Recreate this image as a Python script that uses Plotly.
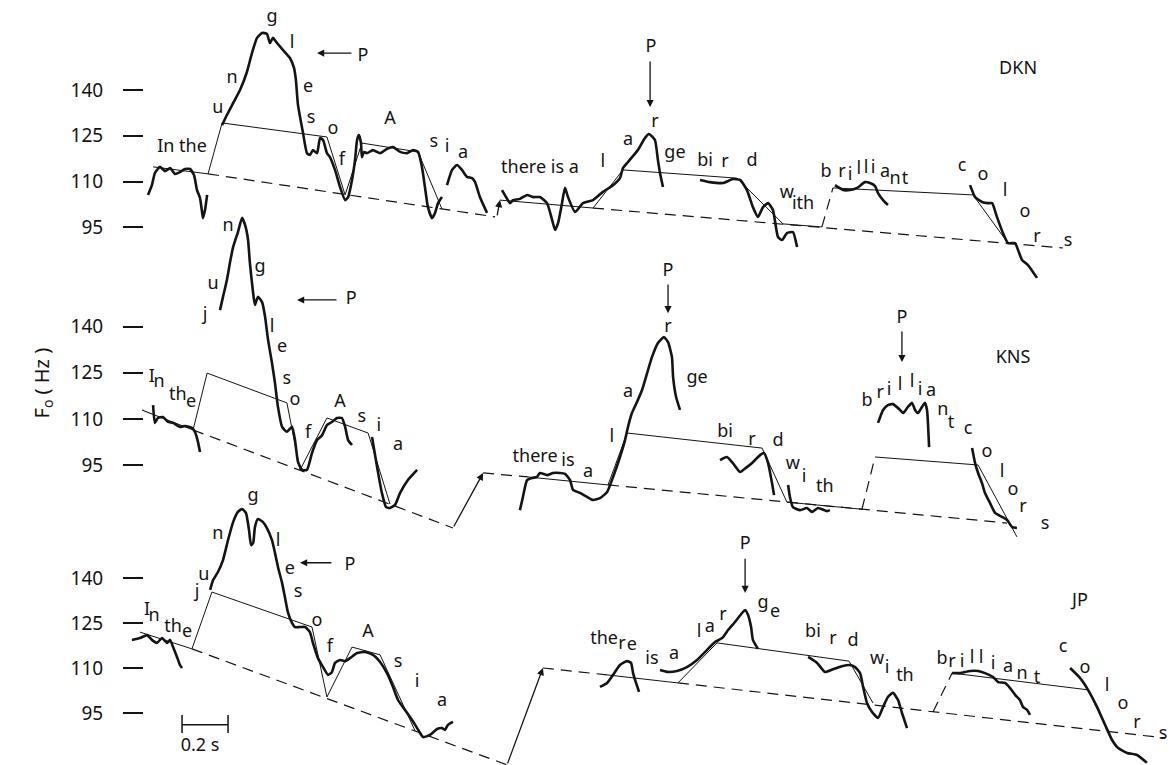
import plotly.graph_objects as go

FONT = "Noto Sans"
INK = "#141414"

# ------------------------------------------------------------------
# Measured F0 contours (time in s, F0 in Hz) and model lines
# ------------------------------------------------------------------
# ---- speaker DKN ----
dkn_t1 = [0.100, 0.117, 0.130, 0.152, 0.174, 0.196, 0.217, 0.239, 0.261, 0.283, 0.300, 0.313, 0.326, 0.335, 0.339, 0.348, 0.357]
dkn_f1 = [105.6, 108.8, 112.8, 114.8, 113.4, 114.4, 112.5, 113.1, 114.1, 114.1, 112.1, 107.2, 104.6, 100.0, 98.0, 100.7, 105.6]
dkn_t2 = [0.422, 0.443, 0.470, 0.500, 0.530, 0.552, 0.574, 0.596, 0.617, 0.630, 0.643, 0.661, 0.687, 0.717, 0.735, 0.743,
          0.752, 0.774, 0.791, 0.804, 0.817, 0.835, 0.848, 0.861, 0.878, 0.891, 0.913, 0.935, 0.957, 0.970, 0.987, 1.000,
          1.009, 1.017, 1.026, 1.030, 1.039, 1.052, 1.078, 1.109, 1.139, 1.165, 1.196, 1.226, 1.252, 1.274, 1.291, 1.304,
          1.317, 1.335, 1.348, 1.361, 1.378]
dkn_f2 = [128.5, 131.8, 135.7, 140.0, 145.9, 152.1, 157.1, 158.7, 158.4, 155.4, 157.1, 155.4, 153.1, 150.5, 147.2, 143.3,
          135.1, 125.9, 119.3, 118.7, 120.3, 119.3, 124.3, 123.6, 119.3, 118.0, 113.8, 108.2, 103.9, 104.9, 110.5, 117.0,
          123.6, 125.2, 122.6, 118.0, 119.7, 119.3, 120.3, 119.3, 120.7, 121.3, 119.7, 119.3, 120.3, 119.7, 114.8, 108.2,
          101.6, 98.0, 99.7, 102.9, 104.9]
dkn_t3 = [1.400, 1.422, 1.443, 1.465, 1.487, 1.509, 1.522, 1.543, 1.574]
dkn_f3 = [108.8, 113.8, 115.4, 113.8, 111.5, 111.1, 109.8, 104.9, 99.7]
dkn_t4 = [1.639, 1.657, 1.674, 1.687, 1.717, 1.748, 1.774, 1.804, 1.835, 1.857, 1.870, 1.883, 1.900, 1.913, 1.926,
          1.957, 1.991, 2.035, 2.078, 2.122, 2.152, 2.165, 2.187, 2.230, 2.261, 2.278, 2.304, 2.317, 2.326, 2.339]
dkn_f4 = [107.2, 104.9, 102.9, 103.9, 104.3, 105.6, 104.9, 104.9, 102.9, 97.4, 94.1, 96.4, 102.9, 107.9, 104.9,
          100.0, 102.9, 103.9, 106.6, 108.8, 111.1, 114.4, 116.4, 120.3, 124.3, 125.6, 123.6, 117.0, 112.8, 108.2]
dkn_t5 = [2.500, 2.543, 2.600, 2.643, 2.674, 2.704, 2.730, 2.752, 2.774, 2.796, 2.817, 2.839, 2.857, 2.878, 2.904, 2.922]
dkn_f5 = [110.5, 109.8, 109.5, 110.8, 110.5, 107.2, 101.6, 98.4, 101.6, 102.9, 100.7, 91.8, 90.8, 93.1, 93.4, 88.5]
dkn_t6 = [3.087, 3.122, 3.152, 3.183, 3.217, 3.239, 3.261, 3.274, 3.296, 3.317]
dkn_f6 = [108.8, 107.2, 107.2, 107.9, 109.8, 109.5, 108.5, 106.2, 103.9, 102.3]
dkn_t7 = [3.674, 3.696, 3.726, 3.752, 3.770, 3.791, 3.817, 3.839, 3.870, 3.883, 3.900, 3.926, 3.965]
dkn_f7 = [108.8, 104.9, 103.3, 102.9, 102.9, 98.4, 93.1, 89.8, 89.8, 87.5, 84.3, 82.6, 78.4]

dkn_solid = [([0.122, 0.361], [114.8, 112.5]),
             ([0.361, 0.422, 0.878, 0.957, 1.030, 1.274, 1.378], [112.5, 129.2, 124.6, 105.6, 122.6, 119.7, 101.0]),
             ([1.630, 2.035], [103.9, 101.3]),
             ([2.035, 2.165, 2.661, 2.861, 3.030], [101.3, 113.8, 111.1, 96.1, 95.1]),
             ([3.078, 3.687, 3.839], [107.9, 105.6, 89.8])]
dkn_dashed = [([0.361, 1.609], [112.5, 98.4]),
              ([2.035, 4.078], [101.3, 88.2]),
              ([3.030, 3.078], [95.1, 107.9])]

# ---- speaker KNS ----
kns_t1 = [0.122, 0.130, 0.143, 0.165, 0.187, 0.209, 0.239, 0.261, 0.291, 0.304, 0.317, 0.326]
kns_f1 = [114.5, 108.7, 110.3, 110.6, 109.0, 108.7, 107.4, 107.7, 107.1, 105.8, 102.6, 99.2]
kns_t2 = [0.413, 0.426, 0.443, 0.457, 0.470, 0.491, 0.509, 0.522, 0.535, 0.543, 0.557, 0.565, 0.578, 0.596, 0.609,
          0.622, 0.639, 0.652, 0.665, 0.683, 0.704, 0.726, 0.739, 0.752, 0.770, 0.791, 0.813, 0.835, 0.857, 0.878,
          0.900, 0.922, 0.943, 0.957, 0.970, 0.987]
kns_f2 = [145.4, 149.7, 155.2, 161.1, 165.9, 170.8, 175.4, 173.1, 168.2, 160.7, 151.0, 147.1, 149.7, 148.0, 143.2,
          135.7, 128.2, 121.7, 113.9, 107.4, 105.8, 107.4, 103.1, 96.0, 93.4, 93.4, 98.9, 103.1, 104.7, 108.0,
          109.0, 110.3, 110.3, 107.4, 103.1, 101.5]
kns_t3 = [1.074, 1.096, 1.117, 1.135, 1.152, 1.174, 1.196, 1.230, 1.270]
kns_f3 = [104.1, 94.3, 85.9, 81.3, 81.0, 82.0, 85.9, 90.1, 93.4]
kns_t4 = [1.717, 1.730, 1.748, 1.770, 1.791, 1.804, 1.835, 1.861, 1.891, 1.913, 1.935, 1.948, 1.978, 2.009, 2.035,
          2.065, 2.096, 2.122, 2.152, 2.174, 2.187, 2.204, 2.226, 2.248, 2.270, 2.291, 2.317, 2.343, 2.361, 2.378,
          2.383, 2.396, 2.413]
kns_f4 = [80.3, 84.6, 90.1, 90.8, 91.1, 92.4, 91.7, 92.4, 92.4, 92.1, 90.1, 86.9, 85.9, 84.6, 83.6,
          84.2, 86.2, 91.1, 97.6, 103.1, 107.4, 111.9, 115.5, 119.4, 124.9, 130.1, 134.7, 136.6, 135.0, 130.1,
          123.6, 117.1, 112.9]
kns_t5 = [2.587, 2.617, 2.643, 2.674, 2.704, 2.730, 2.761, 2.778, 2.796, 2.813, 2.822]
kns_f5 = [96.6, 97.6, 95.6, 92.7, 94.3, 95.9, 98.2, 98.9, 95.6, 89.1, 85.2]
kns_t6 = [2.883, 2.891, 2.904, 2.935, 2.965, 2.987, 3.013, 3.052, 3.065]
kns_f6 = [88.5, 84.6, 81.3, 80.3, 81.0, 79.7, 81.0, 80.0, 80.3]
kns_t7 = [3.274, 3.296, 3.317, 3.339, 3.370, 3.383, 3.404, 3.422, 3.435, 3.448, 3.465, 3.478, 3.487, 3.496]
kns_f7 = [108.7, 112.9, 114.5, 114.8, 112.9, 111.9, 113.9, 115.2, 112.9, 111.9, 113.9, 115.2, 112.9, 100.8]
kns_t8 = [3.683, 3.696, 3.709, 3.726, 3.739, 3.761, 3.783, 3.813, 3.835, 3.857, 3.878]
kns_f8 = [100.5, 95.6, 92.4, 89.1, 85.9, 82.6, 79.4, 78.1, 77.1, 74.8, 74.5]

kns_solid = [([0.117, 0.296], [111.6, 106.4]),
             ([0.296, 0.357, 0.704, 0.761, 0.878, 1.057, 1.152], [106.4, 124.9, 115.2, 93.4, 110.3, 105.4, 82.3]),
             ([1.752, 2.100], [91.1, 88.5]),
             ([2.100, 2.183, 2.770, 2.878, 3.204], [88.5, 105.4, 100.5, 82.9, 80.6]),
             ([3.261, 3.709, 3.878], [97.6, 95.0, 71.6])]
kns_dashed = [([0.074, 0.117], [112.9, 111.6]),
              ([0.296, 1.426], [106.4, 74.5]),
              ([1.557, 1.752], [92.4, 91.1]),
              ([2.100, 3.835], [88.5, 76.1]),
              ([3.204, 3.261], [80.6, 97.6])]

# ---- speaker JP ----
jp_t1 = [0.030, 0.065, 0.096, 0.117, 0.139, 0.161, 0.183, 0.196, 0.209, 0.226, 0.239, 0.248]
jp_f1 = [119.4, 120.0, 121.0, 119.4, 118.4, 120.0, 118.4, 119.4, 117.0, 113.7, 111.0, 110.0]
jp_t2 = [0.370, 0.383, 0.404, 0.426, 0.448, 0.470, 0.491, 0.509, 0.526, 0.539, 0.548, 0.557, 0.565, 0.578, 0.600,
         0.617, 0.639, 0.652, 0.665, 0.683, 0.696, 0.709, 0.726, 0.739, 0.761, 0.783, 0.804, 0.817, 0.839, 0.861,
         0.883, 0.900, 0.913, 0.935, 0.957, 0.978, 1.009, 1.043, 1.078, 1.109, 1.139, 1.165, 1.187, 1.217, 1.248,
         1.270, 1.296, 1.326, 1.357, 1.378, 1.391, 1.404, 1.426]
jp_f2 = [136.1, 139.4, 142.1, 146.1, 152.8, 158.8, 162.2, 163.2, 161.8, 156.2, 151.1, 151.8, 157.2, 159.8, 158.8,
         156.8, 152.8, 148.5, 143.8, 138.4, 133.4, 128.4, 125.1, 123.7, 123.7, 123.7, 122.0, 118.4, 113.3, 110.3,
         107.7, 108.7, 111.7, 112.7, 112.3, 113.3, 115.0, 115.4, 114.4, 112.0, 108.3, 103.7, 99.3, 96.0, 92.6,
         89.9, 86.9, 87.6, 89.6, 89.9, 89.3, 91.0, 92.0]
jp_t3 = [2.065, 2.096, 2.122, 2.152, 2.183, 2.200, 2.209, 2.222, 2.235]
jp_f3 = [103.7, 105.0, 107.7, 111.0, 112.3, 111.7, 108.3, 105.0, 102.0]
jp_t4 = [2.326, 2.357, 2.400, 2.443, 2.487, 2.530, 2.565, 2.596, 2.622, 2.652, 2.683, 2.696, 2.709, 2.722, 2.730, 2.752]
jp_f4 = [109.3, 108.7, 109.0, 110.3, 112.7, 116.0, 118.7, 120.0, 122.7, 125.4, 128.4, 129.4, 127.7, 123.7, 119.4, 116.4]
jp_t5 = [2.970, 3.009, 3.043, 3.078, 3.117, 3.152, 3.174, 3.196, 3.209, 3.226, 3.248, 3.274, 3.296, 3.317, 3.339,
         3.361, 3.378, 3.391, 3.400]
jp_f5 = [113.7, 111.7, 108.7, 109.6, 110.6, 111.0, 110.3, 108.3, 103.7, 98.3, 95.3, 93.3, 97.0, 100.3, 101.7,
         99.3, 95.0, 92.0, 89.9]
jp_t6 = [3.596, 3.630, 3.674, 3.709, 3.739, 3.774, 3.796, 3.826, 3.848, 3.870, 3.891, 3.904, 3.922, 3.935]
jp_f6 = [108.3, 108.3, 109.0, 109.0, 108.3, 107.0, 105.3, 105.0, 103.3, 101.0, 99.3, 97.0, 96.0, 94.3]
jp_t7 = [4.109, 4.152, 4.187, 4.226, 4.261, 4.291, 4.317, 4.357, 4.400, 4.443]
jp_f7 = [110.0, 106.7, 102.7, 97.0, 91.0, 86.0, 83.3, 81.6, 80.9, 78.3]

jp_solid = [([0.065, 0.291], [122.0, 116.4]),
            ([0.291, 0.378, 0.813, 0.878, 0.987, 1.109, 1.261], [116.4, 135.4, 123.7, 100.3, 117.0, 114.4, 89.0]),
            ([2.096, 2.404], [107.7, 105.0]),
            ([2.404, 2.574, 3.148, 3.252], [105.0, 118.4, 112.3, 98.3]),
            ([3.596, 4.187, 4.274], [108.3, 102.7, 89.0])]
jp_dashed = [([0.291, 1.661], [116.4, 77.6]),
             ([1.817, 2.096], [110.0, 107.7]),
             ([2.404, 4.522], [105.0, 86.6]),
             ([3.513, 3.596], [95.3, 108.3])]

# ------------------------------------------------------------------
# Phoneme / word labels (text, time, F0 level)
# ------------------------------------------------------------------
dkn_text = ["In the", "u", "n", "g", "l", "e", "s", "o", "f", "A", "s", "i", "a", "P",
            "there is a", "l", "a", "r", "ge", "bi", "r", "d", "w", "ith",
            "b", "r", "i", "l", "l", "i", "a", "n", "t",
            "c", "o", "l", "o", "r", "s", "DKN", "P"]
dkn_text_t = [0.248, 0.404, 0.465, 0.639, 0.726, 0.796, 0.809, 0.904, 0.943, 1.152, 1.343, 1.400, 1.470, 1.035,
              1.804, 2.078, 2.187, 2.304, 2.391, 2.522, 2.609, 2.726, 2.878, 2.948,
              3.048, 3.117, 3.152, 3.191, 3.222, 3.252, 3.304, 3.348, 3.391,
              3.639, 3.730, 3.826, 3.913, 3.965, 4.100, 3.883, 2.287]
dkn_text_f = [121.3, 134.1, 143.9, 163.9, 155.4, 140.7, 130.8, 126.9, 117.0, 130.2, 122.9, 121.3, 119.3, 151.1,
              114.4, 116.1, 123.6, 129.2, 119.3, 116.4, 116.1, 116.4, 106.2, 102.3,
              113.1, 112.8, 112.1, 114.1, 114.4, 114.4, 112.8, 110.5, 110.5,
              114.8, 112.1, 106.6, 99.7, 91.5, 90.2, 146.6, 153.8]

kns_text = ["I", "n", "th", "e", "j", "u", "n", "g", "l", "e", "s", "o", "f", "A", "s", "i", "a", "P",
            "there", "is", "a", "l", "a", "r", "ge", "bi", "r", "d", "w", "i", "th", "P",
            "b", "r", "i", "l", "l", "i", "a", "n", "t", "P",
            "c", "o", "l", "o", "r", "s", "KNS"]
kns_text_t = [0.117, 0.148, 0.230, 0.287, 0.348, 0.383, 0.448, 0.587, 0.639, 0.683, 0.704, 0.739, 0.796, 0.935,
              1.030, 1.104, 1.187, 0.983,
              1.783, 1.926, 2.013, 2.117, 2.187, 2.361, 2.487, 2.609, 2.726, 2.839, 2.904, 2.952, 3.043, 2.361,
              3.226, 3.283, 3.322, 3.370, 3.422, 3.457, 3.504, 3.556, 3.591, 3.378,
              3.665, 3.748, 3.813, 3.861, 3.904, 4.000, 3.861]
kns_text_f = [123.6, 121.7, 117.6, 115.2, 143.8, 153.6, 172.5, 159.4, 139.9, 133.1, 122.7, 116.1, 105.4, 115.2,
              110.3, 107.4, 101.5, 148.7,
              97.3, 96.0, 92.4, 104.1, 118.7, 139.9, 123.3, 105.7, 103.1, 102.5, 95.0, 90.8, 87.8, 157.8,
              115.5, 118.4, 119.4, 121.0, 121.7, 119.4, 119.0, 112.6, 108.4, 142.8,
              106.4, 99.2, 92.7, 86.8, 81.3, 75.5, 129.8]

jp_text = ["I", "n", "th", "e", "j", "u", "n", "g", "l", "e", "s", "o", "f", "A", "s", "i", "a", "P",
           "the", "r", "e", "is", "a", "l", "a", "r", "g", "e", "bi", "r", "d", "w", "i", "th", "P",
           "b", "r", "i", "l", "l", "i", "a", "n", "t",
           "c", "o", "l", "o", "r", "s", "JP", "0.2 s"]
jp_text_t = [0.096, 0.126, 0.209, 0.270, 0.313, 0.343, 0.404, 0.557, 0.665, 0.717, 0.752, 0.835, 0.891, 1.057,
             1.187, 1.270, 1.378, 0.978,
             2.083, 2.161, 2.204, 2.291, 2.387, 2.496, 2.543, 2.600, 2.774, 2.826, 2.991, 3.078, 3.165,
             3.270, 3.313, 3.391, 2.696,
             3.552, 3.596, 3.639, 3.683, 3.722, 3.774, 3.839, 3.900, 3.965,
             4.078, 4.174, 4.270, 4.339, 4.400, 4.513, 4.152, 0.326]
jp_text_f = [129.4, 127.1, 123.7, 122.0, 135.1, 141.1, 154.5, 167.2, 152.2, 142.8, 135.4, 125.4, 117.0, 122.0,
             111.7, 105.0, 98.7, 144.4,
             119.4, 118.0, 117.4, 112.7, 114.4, 122.0, 123.7, 127.7, 131.7, 128.7, 122.0, 119.4, 118.7,
             112.7, 110.0, 107.0, 151.4,
             112.7, 112.0, 111.7, 113.3, 113.3, 111.3, 110.3, 107.7, 106.4,
             116.7, 110.0, 103.7, 97.7, 91.6, 87.6, 132.1, 83.6]

# Arrows: (tail t, tail F, head t, head F)
dkn_arrows = [(0.991, 152.1, 0.835, 152.1), (2.283, 149.8, 2.283, 134.4), (1.617, 98.4, 1.630, 103.9)]
kns_arrows = [(0.926, 148.7, 0.748, 148.7), (2.361, 154.2, 2.361, 144.4), (3.378, 138.9, 3.378, 128.5),
              (1.426, 74.5, 1.557, 92.4)]
jp_arrows = [(0.904, 145.2, 0.761, 145.2), (2.696, 147.0, 2.696, 135.1), (1.661, 77.6, 1.817, 110.0)]

# Time scale bar (JP axis): start time, length (s), level and end-tick span (Hz)
bar_t0, bar_len = 0.248, 0.2
bar_f, bar_f_top, bar_f_bot = 91.0, 94.3, 88.3

yticks = [95, 110, 125, 140]

# ------------------------------------------------------------------
fig = go.Figure()

panels = [
    ("y", [(dkn_t1, dkn_f1), (dkn_t2, dkn_f2), (dkn_t3, dkn_f3), (dkn_t4, dkn_f4), (dkn_t5, dkn_f5),
           (dkn_t6, dkn_f6), (dkn_t7, dkn_f7)], dkn_solid, dkn_dashed,
     (dkn_text, dkn_text_t, dkn_text_f), dkn_arrows),
    ("y2", [(kns_t1, kns_f1), (kns_t2, kns_f2), (kns_t3, kns_f3), (kns_t4, kns_f4), (kns_t5, kns_f5),
            (kns_t6, kns_f6), (kns_t7, kns_f7), (kns_t8, kns_f8)], kns_solid, kns_dashed,
     (kns_text, kns_text_t, kns_text_f), kns_arrows),
    ("y3", [(jp_t1, jp_f1), (jp_t2, jp_f2), (jp_t3, jp_f3), (jp_t4, jp_f4), (jp_t5, jp_f5),
            (jp_t6, jp_f6), (jp_t7, jp_f7)], jp_solid, jp_dashed,
     (jp_text, jp_text_t, jp_text_f), jp_arrows),
]

annotations = []
for yax, contours, solids, dashes, labels, arrows in panels:
    for t, f in dashes:
        fig.add_trace(go.Scatter(x=t, y=f, yaxis=yax, mode="lines", hoverinfo="skip",
                                 line=dict(color=INK, width=1.2, dash="11px,7px")))
    for t, f in solids:
        fig.add_trace(go.Scatter(x=t, y=f, yaxis=yax, mode="lines", hoverinfo="skip",
                                 line=dict(color=INK, width=1.0)))
    for t, f in contours:
        fig.add_trace(go.Scatter(x=t, y=f, yaxis=yax, mode="lines", hoverinfo="skip",
                                 line=dict(color=INK, width=2.6, shape="spline", smoothing=0.5)))
    txt, tt, tf = labels
    fig.add_trace(go.Scatter(x=tt, y=tf, yaxis=yax, mode="text", text=txt, hoverinfo="skip",
                             textposition="middle center",
                             textfont=dict(family=FONT, size=18, color=INK)))
    for t0, f0, t1, f1 in arrows:
        annotations.append(dict(x=t1, y=f1, ax=t0, ay=f0, xref="x", yref=yax, axref="x", ayref=yax,
                                text="", showarrow=True, arrowhead=2, arrowsize=1.1,
                                arrowwidth=1.3, arrowcolor=INK))

# scale bar
fig.add_trace(go.Scatter(
    x=[bar_t0, bar_t0, None, bar_t0, bar_t0 + bar_len, None, bar_t0 + bar_len, bar_t0 + bar_len],
    y=[bar_f_top, bar_f_bot, None, bar_f, bar_f, None, bar_f_top, bar_f_bot],
    yaxis="y3", mode="lines", hoverinfo="skip", line=dict(color=INK, width=1.5)))

annotations.append(dict(x=25 / 1173, y=1 - 383 / 765, xref="paper", yref="paper",
                        text="F<sub>o</sub> ( Hz )", textangle=-90, showarrow=False,
                        font=dict(family=FONT, size=20, color=INK)))

# y-axis ranges put the four ticks of each speaker at its own height
def yaxis_cfg(rng, **extra):
    cfg = dict(range=rng, tickvals=yticks, ticks="outside", ticklen=20, tickwidth=1.6,
               tickcolor=INK, showgrid=False, zeroline=False, showline=False,
               anchor="free", position=143 / 1173, ticklabelstandoff=16,
               tickfont=dict(family=FONT, size=19, color=INK), fixedrange=True)
    cfg.update(extra)
    return cfg

fig.update_layout(
    width=1173, height=765, autosize=False,
    margin=dict(l=0, r=0, t=0, b=0, pad=0),
    paper_bgcolor="white", plot_bgcolor="white",
    showlegend=False,
    xaxis=dict(range=[-0.5435, 4.5565], visible=False, fixedrange=True, domain=[0, 1]),
    yaxis=yaxis_cfg([-81.31, 169.51]),
    yaxis2=yaxis_cfg([-2.63, 246.31], overlaying="y"),
    yaxis3=yaxis_cfg([77.56, 333.41], overlaying="y"),
    annotations=annotations,
)

fig.write_html("out.html")
